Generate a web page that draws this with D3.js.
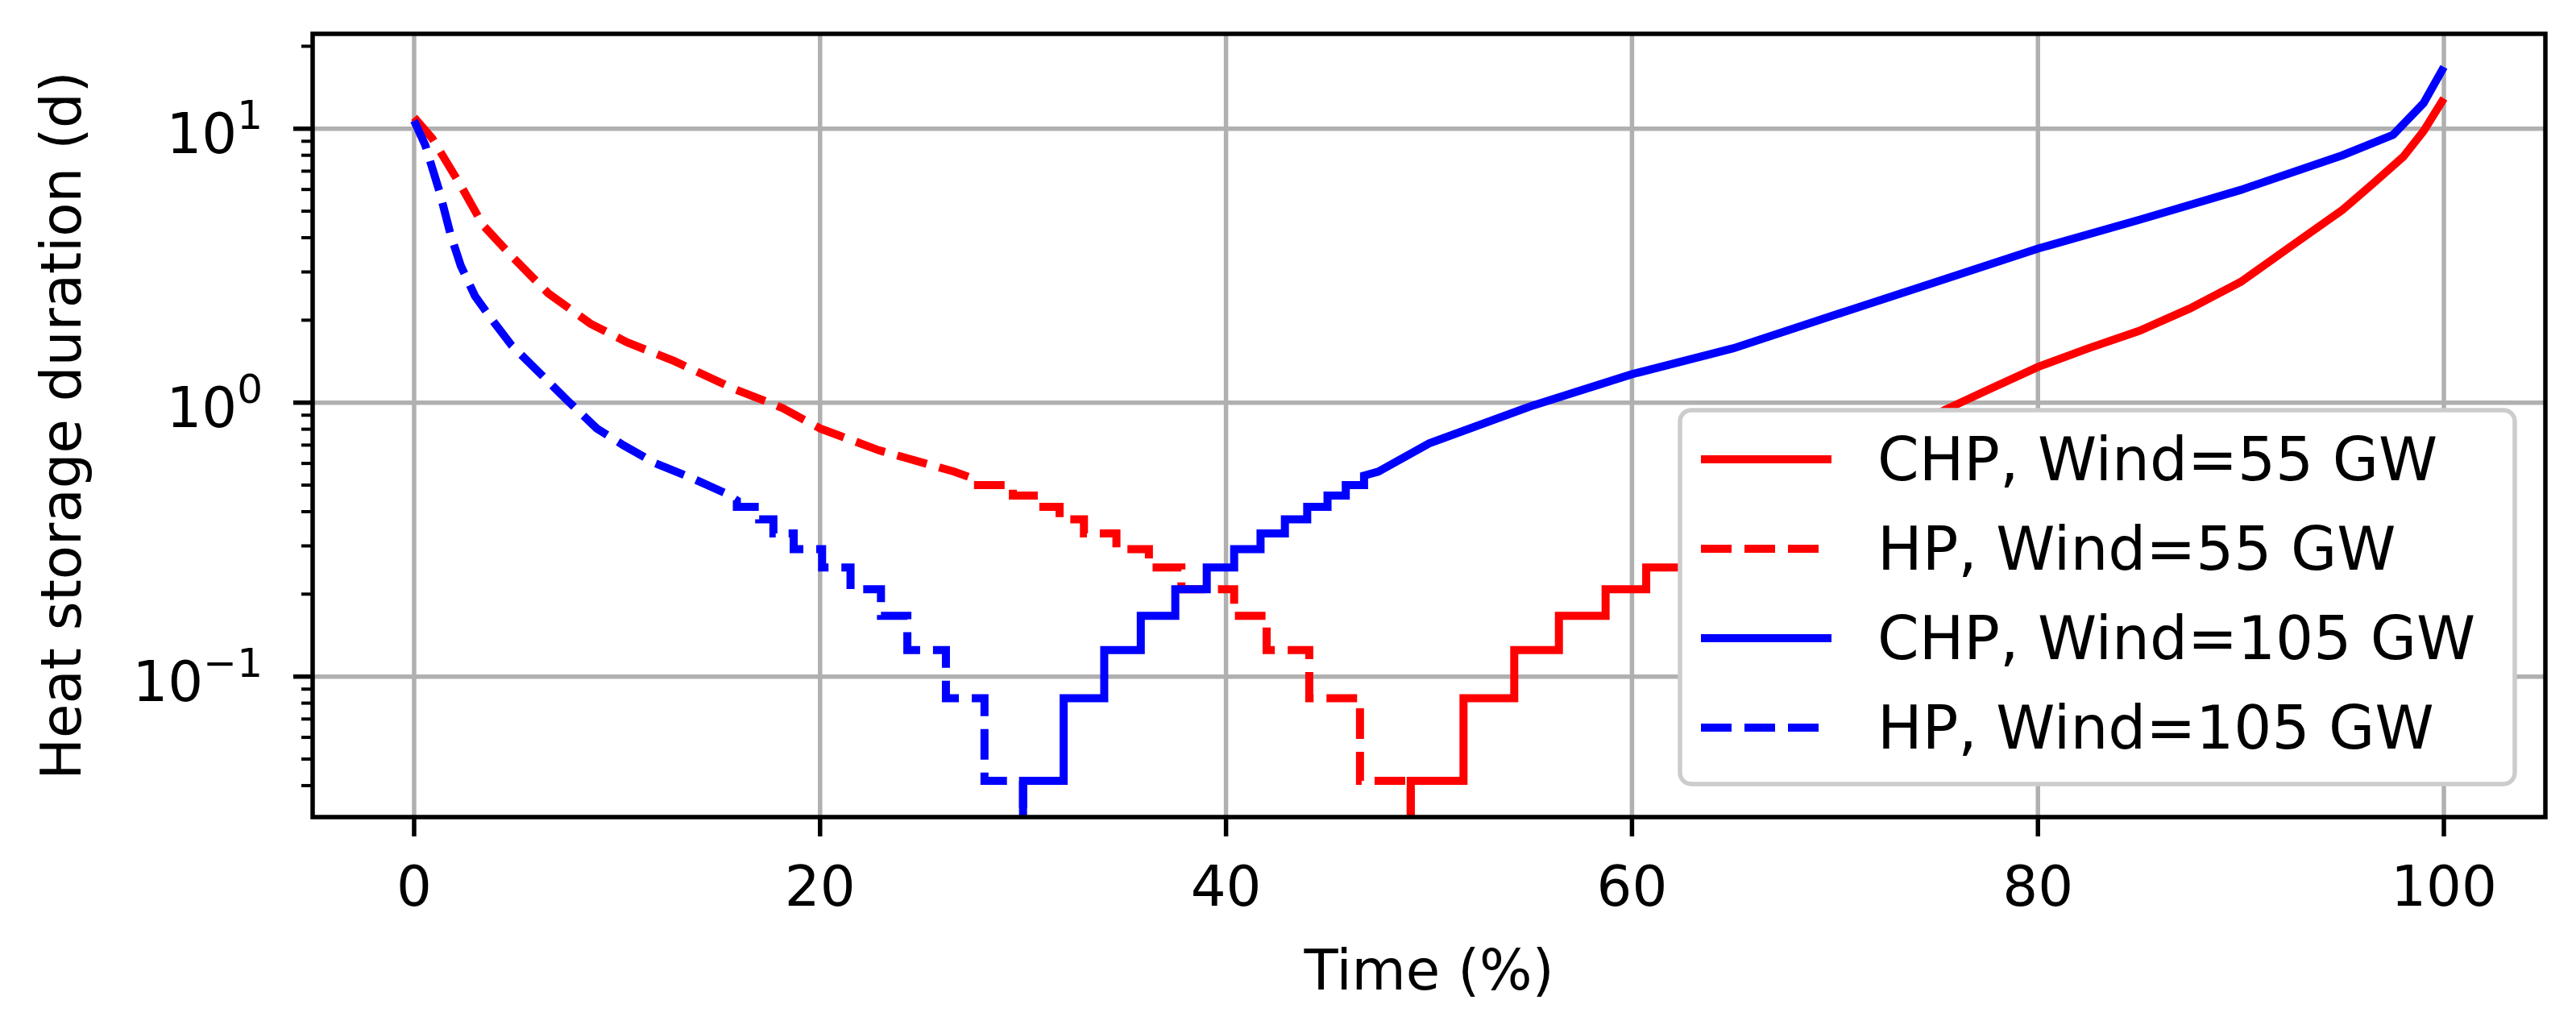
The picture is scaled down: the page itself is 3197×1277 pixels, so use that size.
<!DOCTYPE html>
<html>
<head>
<meta charset="utf-8">
<script src="https://cdn.jsdelivr.net/npm/d3@7"></script>
<style>
  body { margin: 0; background: #fff; }
  text { font-family: "DejaVu Sans", sans-serif; fill: #000; }
</style>
</head>
<body>
<svg id="chart" width="3197" height="1277"></svg>
<script>
// --- DATA (x in % of time, smooth parts in days, stepped parts in hours) ---
const xTicks = [0, 20, 40, 60, 80, 100];
const yMajor = [-1, 0, 1];  // exponents

// CHP, Wind=55 GW (red solid)
const chp55StepX = [49.1, 51.7, 54.2, 56.4, 58.7, 60.7, 63.8, 65.2, 66.4, 67.5, 68.5, 69.4];
const chp55StepH = [1, 2, 3, 4, 5, 6, 7, 8, 9, 10, 11, 12];
const chp55Smooth = [[70.2, 0.54], [72, 0.66], [75.4, 0.94], [77.5, 1.11], [80, 1.35], [82.5, 1.58],
  [85, 1.83], [87.5, 2.21], [90, 2.76], [92.5, 3.74], [95, 5.05], [96.5, 6.3], [98, 7.9], [99, 9.8], [100, 12.9]];

// HP, Wind=55 GW (red dashed)
const hp55Smooth = [[0, 11.0], [0.9, 9.2], [2.3, 6.2], [3.4, 4.44], [4.8, 3.43], [6.6, 2.51], [8.7, 1.94],
  [10.5, 1.66], [12.8, 1.42], [15.8, 1.12], [18.1, 0.96], [20.0, 0.805], [22.9, 0.67], [26.6, 0.56], [27.5, 0.53]];
const hp55StepX = [27.5, 29.5, 30.8, 31.8, 33.0, 34.6, 36.2, 37.8, 40.4, 42.0, 44.1, 46.6, 49.1];
const hp55StepH = [12, 11, 10, 9, 8, 7, 6, 5, 4, 3, 2, 1, 0];

// CHP, Wind=105 GW (blue solid)
const chp105StepX = [30.0, 32.0, 34.0, 35.8, 37.5, 39.05, 40.4, 41.7, 42.9, 44.0, 45.0, 45.9, 46.8];
const chp105StepH = [1, 2, 3, 4, 5, 6, 7, 8, 9, 10, 11, 12, 13];
const chp105Smooth = [[47.5, 0.56], [50, 0.71], [55, 0.97], [60, 1.27], [65, 1.58], [70, 2.09], [75, 2.76],
  [80, 3.65], [85, 4.65], [90, 5.98], [95, 8.0], [97.5, 9.5], [99, 12.4], [100, 16.8]];

// HP, Wind=105 GW (blue dashed)
const hp105Smooth = [[0, 10.7], [0.55, 8.7], [1.25, 5.9], [1.8, 4.1], [2.3, 3.16], [3.0, 2.45], [3.9, 1.98],
  [4.8, 1.62], [6.2, 1.28], [7.6, 1.01], [9.0, 0.805], [10.3, 0.70], [11.9, 0.60], [13.7, 0.53], [15.4, 0.465], [15.9, 0.44]];
const hp105StepX = [15.9, 17.0, 17.7, 18.7, 20.1, 21.5, 23.0, 24.3, 26.2, 28.1, 30.0];
const hp105StepH = [10, 9, 8, 7, 6, 5, 4, 3, 2, 1, 0];

// --- LAYOUT ---
const svg = d3.select("#chart");
const L = 388, R = 3159, T = 42, B = 1014;
const x = d3.scaleLinear().domain([-5, 105]).range([L, R]);
const y = d3.scaleLog().domain([0.0307, 22.2]).range([B, T]);
const below = y.domain()[0] * 0.5;

// hours -> days, with 0 h meaning "off the bottom"
const hToDays = h => h === 0 ? below : h / 24;

function stepPoints(xs, hs, prefixFirst) {
  const pts = [];
  xs.forEach((xv, i) => {
    const v = hToDays(hs[i]);
    if (i === 0 && prefixFirst) pts.push([xv, below]);
    pts.push([xv, v]);
    if (i < xs.length - 1) pts.push([xs[i + 1], v]);
  });
  return pts;
}

const series = [
  { name: "CHP, Wind=55 GW", color: "#ff0000", dash: null,
    pts: stepPoints(chp55StepX, chp55StepH, true).concat(chp55Smooth) },
  { name: "HP, Wind=55 GW", color: "#ff0000", dash: "38,16",
    pts: hp55Smooth.concat(stepPoints(hp55StepX, hp55StepH, false)) },
  { name: "CHP, Wind=105 GW", color: "#0000ff", dash: null,
    pts: stepPoints(chp105StepX, chp105StepH, true).concat(chp105Smooth) },
  { name: "HP, Wind=105 GW", color: "#0000ff", dash: "38,16",
    pts: hp105Smooth.concat(stepPoints(hp105StepX, hp105StepH, false)) }
];

svg.append("defs").append("clipPath").attr("id", "clip")
  .append("rect").attr("x", L).attr("y", T).attr("width", R - L).attr("height", B - T);

// grid
const grid = svg.append("g").attr("stroke", "#b0b0b0").attr("stroke-width", 5.5);
xTicks.forEach(t => grid.append("line").attr("x1", x(t)).attr("x2", x(t)).attr("y1", T).attr("y2", B));
yMajor.forEach(e => grid.append("line").attr("x1", L).attr("x2", R).attr("y1", y(Math.pow(10, e))).attr("y2", y(Math.pow(10, e))));

// lines
const line = d3.line().x(d => x(d[0])).y(d => y(d[1]));
const lines = svg.append("g").attr("clip-path", "url(#clip)");
series.forEach(s => {
  lines.append("path").attr("d", line(s.pts)).attr("fill", "none")
    .attr("stroke", s.color).attr("stroke-width", 10)
    .attr("stroke-dasharray", s.dash).attr("stroke-linejoin", "miter").attr("stroke-linecap", "butt");
});

// spines
svg.append("rect").attr("x", L).attr("y", T).attr("width", R - L).attr("height", B - T)
  .attr("fill", "none").attr("stroke", "#000").attr("stroke-width", 5.5);

// x ticks
const ax = svg.append("g");
xTicks.forEach(t => {
  ax.append("line").attr("x1", x(t)).attr("x2", x(t)).attr("y1", B).attr("y2", B + 24).attr("stroke", "#000").attr("stroke-width", 5.5);
  ax.append("text").attr("x", x(t)).attr("y", B + 110).attr("text-anchor", "middle").attr("font-size", 69).text(t);
});
svg.append("text").attr("x", (L + R) / 2).attr("y", 1228).attr("text-anchor", "middle").attr("font-size", 69).text("Time (%)");

// y ticks (major + minor)
const [lo, hi] = y.domain();
for (let e = -2; e <= 1; e++) {
  for (let m = 1; m <= 9; m++) {
    const v = m * Math.pow(10, e);
    if (v < lo || v > hi) continue;
    const len = m === 1 ? 24 : 14;
    ax.append("line").attr("x1", L - len).attr("x2", L).attr("y1", y(v)).attr("y2", y(v))
      .attr("stroke", "#000").attr("stroke-width", m === 1 ? 5.5 : 4);
  }
}
yMajor.forEach(e => {
  const tx = ax.append("text").attr("x", L - 62).attr("y", y(Math.pow(10, e)) + 30)
    .attr("text-anchor", "end").attr("font-size", 69);
  tx.append("tspan").text("10");
  tx.append("tspan").attr("font-size", 50).attr("dy", -30).text(e < 0 ? "\u2212" + (-e) : e);
});
svg.append("text").attr("transform", `translate(100,${(T + B) / 2}) rotate(-90)`)
  .attr("text-anchor", "middle").attr("font-size", 69).text("Heat storage duration (d)");

// legend
const lg = svg.append("g");
lg.append("rect").attr("x", 2085).attr("y", 509).attr("width", 1036).attr("height", 464)
  .attr("rx", 14).attr("fill", "#fff").attr("stroke", "#cccccc").attr("stroke-width", 5.5);
series.forEach((s, i) => {
  const cy = 570 + i * 111;
  lg.append("line").attr("x1", 2111).attr("x2", 2273).attr("y1", cy).attr("y2", cy)
    .attr("stroke", s.color).attr("stroke-width", 10).attr("stroke-dasharray", s.dash);
  lg.append("text").attr("x", 2330).attr("y", cy + 26).attr("font-size", 74).text(s.name);
});
</script>
</body>
</html>
